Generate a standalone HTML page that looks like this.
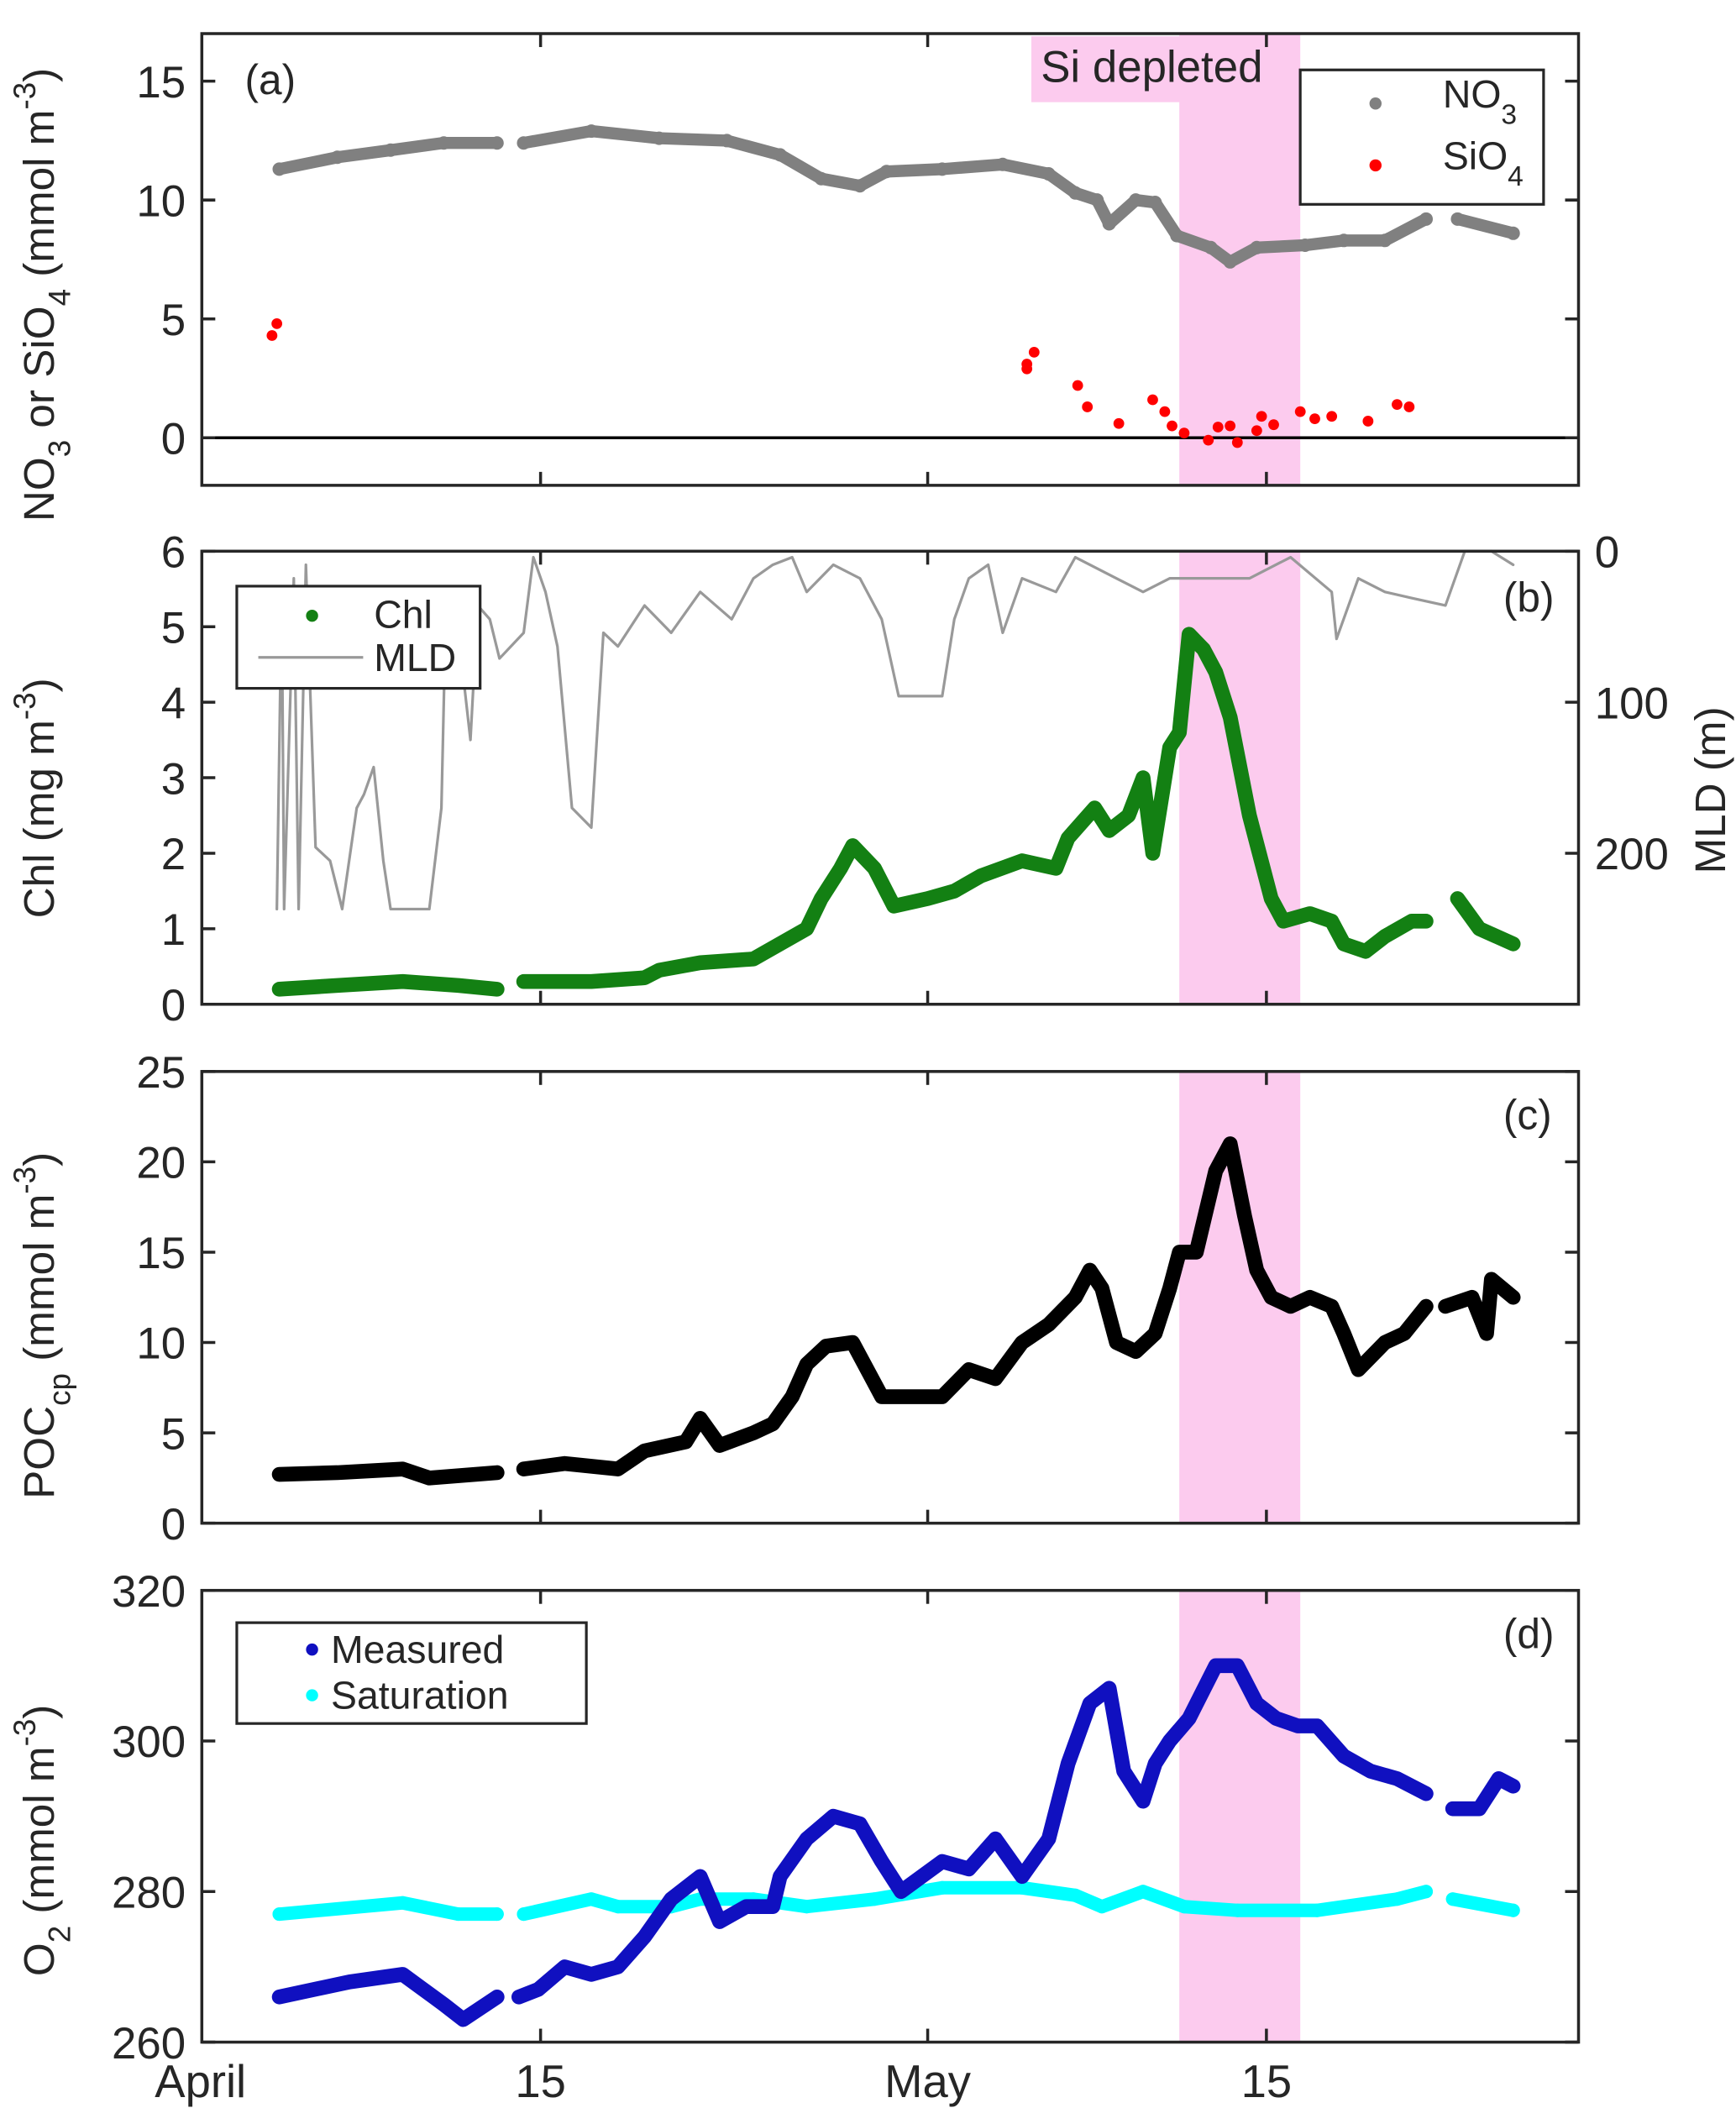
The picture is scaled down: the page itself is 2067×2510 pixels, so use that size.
<!DOCTYPE html>
<html><head><meta charset="utf-8"><style>
html,body{margin:0;padding:0;background:#fff}
svg{display:block}
text{font-family:"Liberation Sans",Arial,sans-serif;fill:#262626}
</style></head><body>
<svg id="chart" width="2067" height="2510" viewBox="0 0 1291 1568" xmlns="http://www.w3.org/2000/svg">
<g id="root"></g>
</svg>
<script>
// ---- data (day = days since March 31, i.e. April 1 = 1) ----
const xTickDays = [15, 31, 45];
const xTickLabels = ["15", "May", "15"];
const siDepletedStart = 41.4, siDepletedEnd = 46.4;

const no3Days = [4.2,6.6,8.8,11.0,13.2,null,14.3,17.1,19.9,22.7,24.9,26.6,28.2,29.3,31.6,34.1,36.0,37.1,38.0,38.5,39.6,40.4,41.3,42.7,43.5,44.6,46.6,48.2,49.9,51.6,null,52.9,55.2];
const no3Vals = [11.3,11.8,12.1,12.4,12.4,null,12.4,12.9,12.6,12.5,11.9,10.9,10.6,11.2,11.3,11.5,11.1,10.3,10.0,9.0,10.0,9.9,8.5,8.0,7.4,8.0,8.1,8.3,8.3,9.2,null,9.2,8.6];

const sio4Days = [3.9,4.1,35.1,35.1,35.4,37.2,37.6,38.9,40.3,40.8,41.1,41.6,42.6,43.0,43.5,43.8,44.6,44.8,45.3,46.4,47.0,47.7,49.2,50.4,50.9];
const sio4Vals = [4.3,4.8,2.9,3.1,3.6,2.2,1.3,0.6,1.6,1.1,0.5,0.2,-0.1,0.45,0.5,-0.2,0.3,0.9,0.55,1.1,0.8,0.9,0.7,1.4,1.3];

const chlDays = [4.2,6.6,9.3,11.6,13.2,null,14.3,17.1,19.3,19.9,21.6,23.8,26.0,26.6,27.4,27.9,28.8,29.6,31.0,32.1,33.2,34.9,36.3,36.8,37.9,38.5,39.3,39.9,40.3,41.0,41.4,41.8,42.4,42.9,43.5,44.3,45.2,45.7,46.8,47.7,48.2,49.1,49.9,51.0,51.6,null,52.9,53.8,55.2];
const chlVals = [0.2,0.25,0.3,0.25,0.2,null,0.3,0.3,0.35,0.45,0.55,0.6,1.0,1.4,1.8,2.1,1.8,1.3,1.4,1.5,1.7,1.9,1.8,2.2,2.6,2.3,2.5,3.0,2.0,3.4,3.6,4.9,4.7,4.4,3.8,2.5,1.4,1.1,1.2,1.1,0.8,0.7,0.9,1.1,1.1,null,1.4,1.0,0.8];

const mldDays = [4.1,4.3,4.4,4.8,5.0,5.3,5.7,6.3,6.8,7.4,7.7,8.1,8.5,8.8,10.4,10.9,11.1,11.6,12.1,12.4,12.9,13.3,14.3,14.7,15.2,15.7,16.3,17.1,17.6,18.2,19.3,20.4,21.6,22.9,23.8,24.6,25.4,26.0,27.1,28.2,29.1,29.8,31.6,32.1,32.7,33.5,34.1,34.9,36.3,37.1,38.8,39.9,41.0,42.7,44.3,46.0,47.7,47.9,48.8,49.9,51.0,52.4,53.2,54.3,55.2];
const mldVals = [237,27,237,18,237,9,196,205,237,170,161,143,205,237,237,170,27,54,125,36,45,71,54,4,27,63,170,183,54,63,36,54,27,45,18,9,4,27,9,18,45,96,96,45,18,9,54,18,27,4,18,27,18,18,18,4,27,58,18,27,31,36,0,0,9];

const pocDays = [4.2,6.6,9.3,10.4,13.2,null,14.3,16.0,18.2,19.3,21.0,21.6,22.4,23.8,24.6,25.4,26.0,26.8,27.9,29.1,30.4,31.6,32.7,33.8,34.9,36.0,37.1,37.7,38.2,38.8,39.6,40.4,41.0,41.4,42.1,42.9,43.5,44.1,44.6,45.2,46.0,46.8,47.7,48.2,48.8,49.9,50.7,51.6,null,52.4,53.5,54.1,54.3,55.2];
const pocVals = [2.7,2.8,3.0,2.5,2.8,null,3.0,3.3,3.0,4.0,4.5,5.8,4.3,5.0,5.5,7.0,8.8,9.8,10.0,7.0,7.0,7.0,8.5,8.0,10.0,11.0,12.5,14.0,13.0,10.0,9.5,10.5,13.0,15.0,15.0,19.5,21.0,17.0,14.0,12.5,12.0,12.5,12.0,10.5,8.5,10.0,10.5,12.0,null,12.0,12.5,10.5,13.5,12.5];

const o2MeasDays = [4.2,7.1,9.3,11.0,11.8,13.2,null,14.1,14.9,16.0,17.1,18.2,19.3,20.4,21.6,22.4,23.5,24.6,24.9,26.0,27.1,28.2,29.1,29.9,31.6,32.7,33.8,34.9,36.0,36.8,37.7,38.5,39.1,39.9,40.4,41.0,41.8,42.9,43.8,44.6,45.4,46.3,47.1,48.2,49.3,50.4,51.6,null,52.7,53.8,54.6,55.2];
const o2MeasVals = [266,268,269,265,263,266,null,266,267,270,269,270,274,279,282,276,278,278,282,287,290,289,284,280,284,283,287,282,287,297,305,307,296,292,297,300,303,310,310,305,303,302,302,298,296,295,293,null,291,291,295,294];
const o2SatDays = [4.2,9.3,11.6,13.2,null,14.3,17.1,18.2,20.4,21.6,23.8,26.0,28.8,31.6,34.9,37.1,38.2,39.9,41.6,43.8,47.1,50.4,51.6,null,52.7,55.2];
const o2SatVals = [277,278.5,277,277,null,277,279,278,278,279,279,278,279,280.5,280.5,279.5,278,280,278,277.5,277.5,279,280,null,279,277.5];

// ---- layout ----
const X0 = 150, X1 = 1174, D0 = 1, D1 = 57.9;
const panels = {
  a:{top:25,bot:361,min:-2,max:17},
  b:{top:410,bot:747,min:0,max:6},
  c:{top:797,bot:1133,min:0,max:25},
  d:{top:1183,bot:1519,min:260,max:320}
};
const xs = d => X0 + (d - D0) / (D1 - D0) * (X1 - X0);
const ys = (p, v) => p.bot - (v - p.min) / (p.max - p.min) * (p.bot - p.top);
const mldY = v => panels.b.top + v / 300 * (panels.b.bot - panels.b.top);

const NS = "http://www.w3.org/2000/svg";
const root = document.getElementById("root");
function mk(tag, attrs, parent, txt) {
  const e = document.createElementNS(NS, tag);
  for (const k in attrs) e.setAttribute(k, attrs[k]);
  if (txt !== undefined) e.textContent = txt;
  (parent || root).appendChild(e);
  return e;
}
function series(days, vals, yf, color, r, sw, name, parent, noLine) {
  const g = mk("g", {}, parent);
  
  
  let seg = [];
  const flush = () => {
    if (seg.length > 1 && !noLine) {
      const pl = mk("polyline", {points: seg.join(" "), fill: "none", stroke: color, "stroke-width": sw, "stroke-linejoin": "round", "stroke-linecap": "round"}, g);
      
      
    }
    seg = [];
  };
  for (let i = 0; i < days.length; i++) {
    if (days[i] === null) { flush(); continue; }
    const x = xs(days[i]), y = yf(vals[i]);
    seg.push(x.toFixed(1) + "," + y.toFixed(1));
    const c = mk("circle", {cx: x, cy: y, r: r, fill: color}, g);
    
    
  }
  flush();
  return g;
}
function pink(p, key) {
  const r = mk("rect", {x: xs(siDepletedStart), y: p.top, width: xs(siDepletedEnd) - xs(siDepletedStart), height: p.bot - p.top, fill: "#fccbee"});
  
  
}
function frame(p, key, ticks, labels, rightTicks) {
  const g = mk("g", {});
  
  
  mk("rect", {x: X0, y: p.top, width: X1 - X0, height: p.bot - p.top, fill: "none", stroke: "#262626", "stroke-width": 2.2}, g);
  ticks.forEach((t, i) => {
    const y = ys(p, t);
    mk("line", {x1: X0, x2: X0 + 10, y1: y, y2: y, stroke: "#262626", "stroke-width": 2.2}, g);
    if (!rightTicks) mk("line", {x1: X1, x2: X1 - 10, y1: y, y2: y, stroke: "#262626", "stroke-width": 2.2}, g);
    const t2 = mk("text", {x: X0 - 12, y: y + 12, "text-anchor": "end", "font-size": 33}, g, labels[i]);
    
    
  });
  xTickDays.forEach(d => {
    const x = xs(d);
    mk("line", {x1: x, x2: x, y1: p.bot, y2: p.bot - 10, stroke: "#262626", "stroke-width": 2.2}, g);
    mk("line", {x1: x, x2: x, y1: p.top, y2: p.top + 10, stroke: "#262626", "stroke-width": 2.2}, g);
  });
}
function label(txt, x, y, name, size) {
  const t = mk("text", {x: x, y: y, "font-size": size || 31}, root, txt);
  
  
  return t;
}

// ---- Panel a ----
const pa = panels.a;
pink(pa, 'a');
const sdBox = mk("rect", {x: 767, y: 27, width: 196, height: 49, fill: "#fccbee"});


label("Si depleted", 774, 61, 'si-depleted-label', 33);
mk("line", {x1: X0, x2: X1, y1: ys(pa, 0), y2: ys(pa, 0), stroke: "#000", "stroke-width": 2.2});
series(no3Days, no3Vals, v => ys(pa, v), "#808080", 5, 9, 'no3-series');
series(sio4Days, sio4Vals, v => ys(pa, v), "#ff0000", 4, 0, 'sio4-series', null, true);
frame(pa, 'a', [0, 5, 10, 15], ["0", "5", "10", "15"]);
label("(a)", 182, 70, 'panel-label-a');
const la = mk("g", {});


mk("rect", {x: 967, y: 52, width: 181, height: 100, fill: "#fff", stroke: "#262626", "stroke-width": 2}, la);
mk("circle", {cx: 1023, cy: 77, r: 4.5, fill: "#808080"}, la);
mk("circle", {cx: 1023, cy: 123, r: 4.5, fill: "#ff0000"}, la);
let t = mk("text", {x: 1073, y: 80, "font-size": 29}, la); t.innerHTML = 'NO<tspan dy="12" font-size="21">3</tspan>';
 
t = mk("text", {x: 1073, y: 126, "font-size": 29}, la); t.innerHTML = 'SiO<tspan dy="12" font-size="21">4</tspan>';
 
t = mk("text", {transform: "translate(40,388) rotate(-90)", "font-size": 32});
t.innerHTML = 'NO<tspan dy="12" font-size="23">3</tspan><tspan dy="-12"> or SiO</tspan><tspan dy="12" font-size="23">4</tspan><tspan dy="-12"> (mmol m</tspan><tspan dy="-14" font-size="23">-3</tspan><tspan dy="14">)</tspan>';
 

// ---- Panel b ----
const pb = panels.b;
pink(pb, 'b');
series(mldDays, mldVals, mldY, "#999999", 0.01, 2, 'mld-series');
series(chlDays, chlVals, v => ys(pb, v), "#138013", 5, 11, 'chl-series');
frame(pb, 'b', [0, 1, 2, 3, 4, 5, 6], ["0", "1", "2", "3", "4", "5", "6"], true);
[0, 100, 200].forEach(v => {
  mk("line", {x1: X1, x2: X1 - 10, y1: mldY(v), y2: mldY(v), stroke: "#262626", "stroke-width": 2.2});
  const tt = mk("text", {x: X1 + 12, y: mldY(v) + 12, "font-size": 33}, root, String(v));
   
});
label("(b)", 1118, 455, 'panel-label-b');
const lb = mk("g", {});


mk("rect", {x: 176, y: 436, width: 181, height: 76, fill: "#fff", stroke: "#262626", "stroke-width": 2}, lb);
mk("circle", {cx: 232, cy: 458, r: 4.5, fill: "#138013"}, lb);
mk("line", {x1: 192, x2: 270, y1: 489, y2: 489, stroke: "#999", "stroke-width": 2}, lb);
t = mk("text", {x: 278, y: 467, "font-size": 29}, lb, "Chl");  
t = mk("text", {x: 278, y: 499, "font-size": 29}, lb, "MLD");  
t = mk("text", {transform: "translate(40,683) rotate(-90)", "font-size": 32});
t.innerHTML = 'Chl (mg m<tspan dy="-14" font-size="23">-3</tspan><tspan dy="14">)</tspan>';
 
t = mk("text", {transform: "translate(1283,650) rotate(-90)", "font-size": 32}, root, "MLD (m)");
 

// ---- Panel c ----
const pc = panels.c;
pink(pc, 'c');
series(pocDays, pocVals, v => ys(pc, v), "#000000", 5, 11, 'poc-series');
frame(pc, 'c', [0, 5, 10, 15, 20, 25], ["0", "5", "10", "15", "20", "25"]);
label("(c)", 1118, 840, 'panel-label-c');
t = mk("text", {transform: "translate(40,1115) rotate(-90)", "font-size": 32});
t.innerHTML = 'POC<tspan dy="12" font-size="23">cp</tspan><tspan dy="-12"> (mmol m</tspan><tspan dy="-14" font-size="23">-3</tspan><tspan dy="14">)</tspan>';
 

// ---- Panel d ----
const pd = panels.d;
pink(pd, 'd');
series(o2SatDays, o2SatVals, v => ys(pd, v), "#00ffff", 5, 10, 'o2-saturation-series');
series(o2MeasDays, o2MeasVals, v => ys(pd, v), "#1010c0", 5, 11, 'o2-measured-series');
frame(pd, 'd', [260, 280, 300, 320], ["260", "280", "300", "320"]);
label("(d)", 1118, 1226, 'panel-label-d');
const ld = mk("g", {});


mk("rect", {x: 176, y: 1207, width: 260, height: 75, fill: "#fff", stroke: "#262626", "stroke-width": 2}, ld);
mk("circle", {cx: 232, cy: 1227, r: 4.5, fill: "#1010c0"}, ld);
mk("circle", {cx: 232, cy: 1261, r: 4.5, fill: "#00ffff"}, ld);
t = mk("text", {x: 246, y: 1237, "font-size": 29}, ld, "Measured");  
t = mk("text", {x: 246, y: 1271, "font-size": 29}, ld, "Saturation");  
t = mk("text", {transform: "translate(40,1470) rotate(-90)", "font-size": 32});
t.innerHTML = 'O<tspan dy="12" font-size="23">2</tspan><tspan dy="-12"> (mmol m</tspan><tspan dy="-14" font-size="23">-3</tspan><tspan dy="14">)</tspan>';
 

// x tick labels
t = mk("text", {x: 115, y: 1560, "font-size": 34}, root, "April");
 
xTickDays.forEach((d, i) => {
  const tt = mk("text", {x: xs(d), y: 1560, "font-size": 34, "text-anchor": "middle"}, root, xTickLabels[i]);
   
});
</script>
</body></html>
